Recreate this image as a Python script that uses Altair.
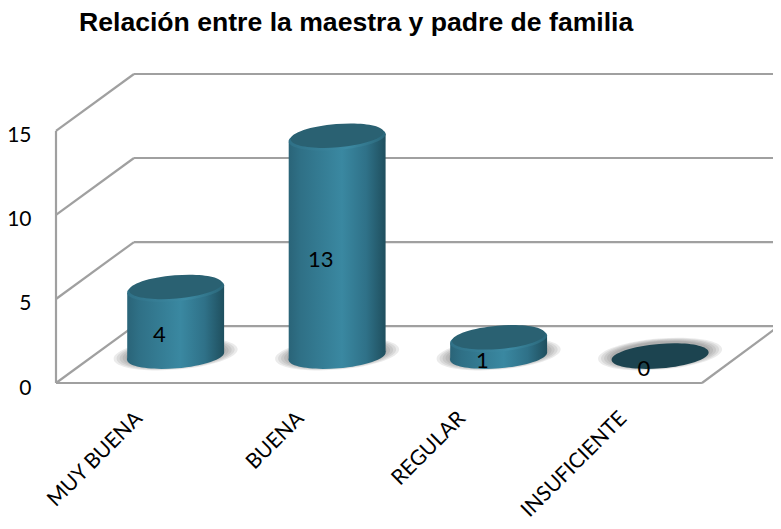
import json
import altair as alt
import pandas as pd

categories = ["MUY BUENA", "BUENA", "REGULAR", "INSUFICIENTE"]
values = [4, 13, 1, 0]
ticks = [0, 5, 10, 15]
title = "Relación entre la maestra y padre de familia"

DEPTH_X = 0.483      # 3D depth of the floor, in category widths
DEPTH_Y = 3.39       # 3D depth of the floor, in value units
WALL_END = 4.477
VIEW_END = 4.44
MID_X = 0.241        # cylinders stand in the middle of the floor depth
BASE_Y = 1.6
HALF_W = 0.30
TILT = 0.24
LABEL_Y = 0.83

names = json.dumps(categories)
xs = alt.Scale(domain=[0, VIEW_END], nice=False, zero=False)
ys = alt.Scale(domain=[0, 15 + DEPTH_Y], nice=False, zero=False)
x_axis = alt.Axis(
    values=[i + 0.5 for i in range(4)], labelExpr=f"{names}[floor(datum.value)]",
    title=None, domain=False, ticks=False, grid=False, labelAngle=-45, labelAlign="right", labelBaseline="middle",
    labelFont="Lato", labelFontSize=21, labelColor="#000000", labelPadding=32, labelOffset=2,
    labelOverlap=False, labelBound=False, labelFlush=False)
y_axis = alt.Axis(
    values=ticks, title=None, domain=False, ticks=False, grid=False, labelFont="Lato", labelFontSize=21,
    labelColor="#000000", labelPadding=25, labelOffset=5, labelBaseline="middle")


def X(f="x"):
    return alt.X(f"{f}:Q", scale=xs, axis=x_axis, title=None)


def Y(f="y"):
    return alt.Y(f"{f}:Q", scale=ys, axis=y_axis, title=None)


ELLIPSE = "M-1,0.082 A1,0.25 -4.7 1 1 1,-0.082 A1,0.25 -4.7 1 1 -1,0.082 Z"


def grad(stops):
    return alt.LinearGradient(
        gradient="linear", x1=0, x2=1, y1=0, y2=0,
        stops=[alt.GradientStop(offset=o, color=c) for o, c in stops],
    )


BODY = grad([(0, "#2a6478"), (0.12, "#2f7086"), (0.55, "#3a88a1"), (0.8, "#2f7188"), (1, "#1f4f5e")])

# --- frame -------------------------------------------------------------
segs = []
def seg(name, a, b):
    segs.append({"seg": name, "k": 0, "x": a[0], "y": a[1]})
    segs.append({"seg": name, "k": 1, "x": b[0], "y": b[1]})

seg("left", (0, ticks[0]), (0, ticks[-1]))
seg("front", (0, 0), (4, 0))
seg("side", (4, 0), (WALL_END, DEPTH_Y))
for t in ticks:
    seg(f"d{t}", (0, t), (DEPTH_X, t + DEPTH_Y))
    seg(f"b{t}", (DEPTH_X, t + DEPTH_Y), (WALL_END, t + DEPTH_Y))
frame_df = pd.DataFrame(segs)

frame = alt.Chart(frame_df).mark_line(color="#a0a0a0", strokeWidth=2.2, clip=False).encode(
    x=X(), y=Y(), detail="seg:N", order="k:Q")

# --- cylinders ---------------------------------------------------------
rows = pd.DataFrame({"cat": categories, "v": values, "i": range(4)})
rows["x"] = rows["i"] + 0.5 + MID_X
rows["ybase"] = BASE_Y
rows["y"] = rows["v"] + BASE_Y
solid = rows[rows["v"] > 0]
empty = rows[rows["v"] == 0]


def ell(df, ycol, width, fill, opacity=1.0, yoffset=0, dx=0):
    return alt.Chart(df).mark_point(
        shape=ELLIPSE, size=width ** 2, filled=True, fill=fill, opacity=opacity,
        strokeWidth=0, yOffset=yoffset, xOffset=dx,
    ).encode(x=X(), y=Y(ycol))


shadows = [ell(rows, "ybase", w, "#4d4d4d", 0.11, -2, 0) for w in (124, 118, 112, 106, 100)]

body_rows = []
for _, r in solid.iterrows():
    for side in (-1, 1):
        body_rows.append({
            "cat": r["cat"], "x": r["x"] + side * HALF_W,
            "y": r["v"] + BASE_Y + side * TILT,
            "y2": BASE_Y + side * TILT,
        })
body_df = pd.DataFrame(body_rows)
bodies = alt.Chart(body_df).mark_area(fill=BODY, line=False, opacity=1).encode(
    x=X(), y=Y(), y2="y2:Q", detail="cat:N")

bottoms = ell(solid, "ybase", 97, BODY)
rims = ell(solid, "y", 97, grad([(0, "#2f7086"), (0.6, "#3d8ba4"), (1, "#2a6679")]))
tops = ell(solid, "y", 93, "#2a6172", yoffset=-2)
zero_tops = ell(empty, "y", 97, "#1c4450")

labels = alt.Chart(rows.assign(lx=rows["i"] + 0.64, ly=rows["v"] / 2 + LABEL_Y)).mark_text(
    font="Lato", fontSize=22, color="#000000", align="center", baseline="middle",
).encode(x=X("lx"), y=Y("ly"), text="v:Q")

chart = alt.layer(frame, *shadows, bottoms, bodies, rims, tops, zero_tops, labels).properties(
    width=717, height=309,
    padding={"left": 48, "top": 66, "right": 0, "bottom": 138},
    autosize=alt.AutoSizeParams(type="none"),
    background="#ffffff",
    title=alt.TitleParams(text=title, anchor="start", frame="group", dx=23, offset=6,
                          font="Liberation Sans", fontSize=26.6, fontWeight="bold", color="#000000",
                          baseline="bottom"),
).configure_view(strokeWidth=0)

chart.save("out.html", embed_options={"renderer": "svg", "actions": False})
